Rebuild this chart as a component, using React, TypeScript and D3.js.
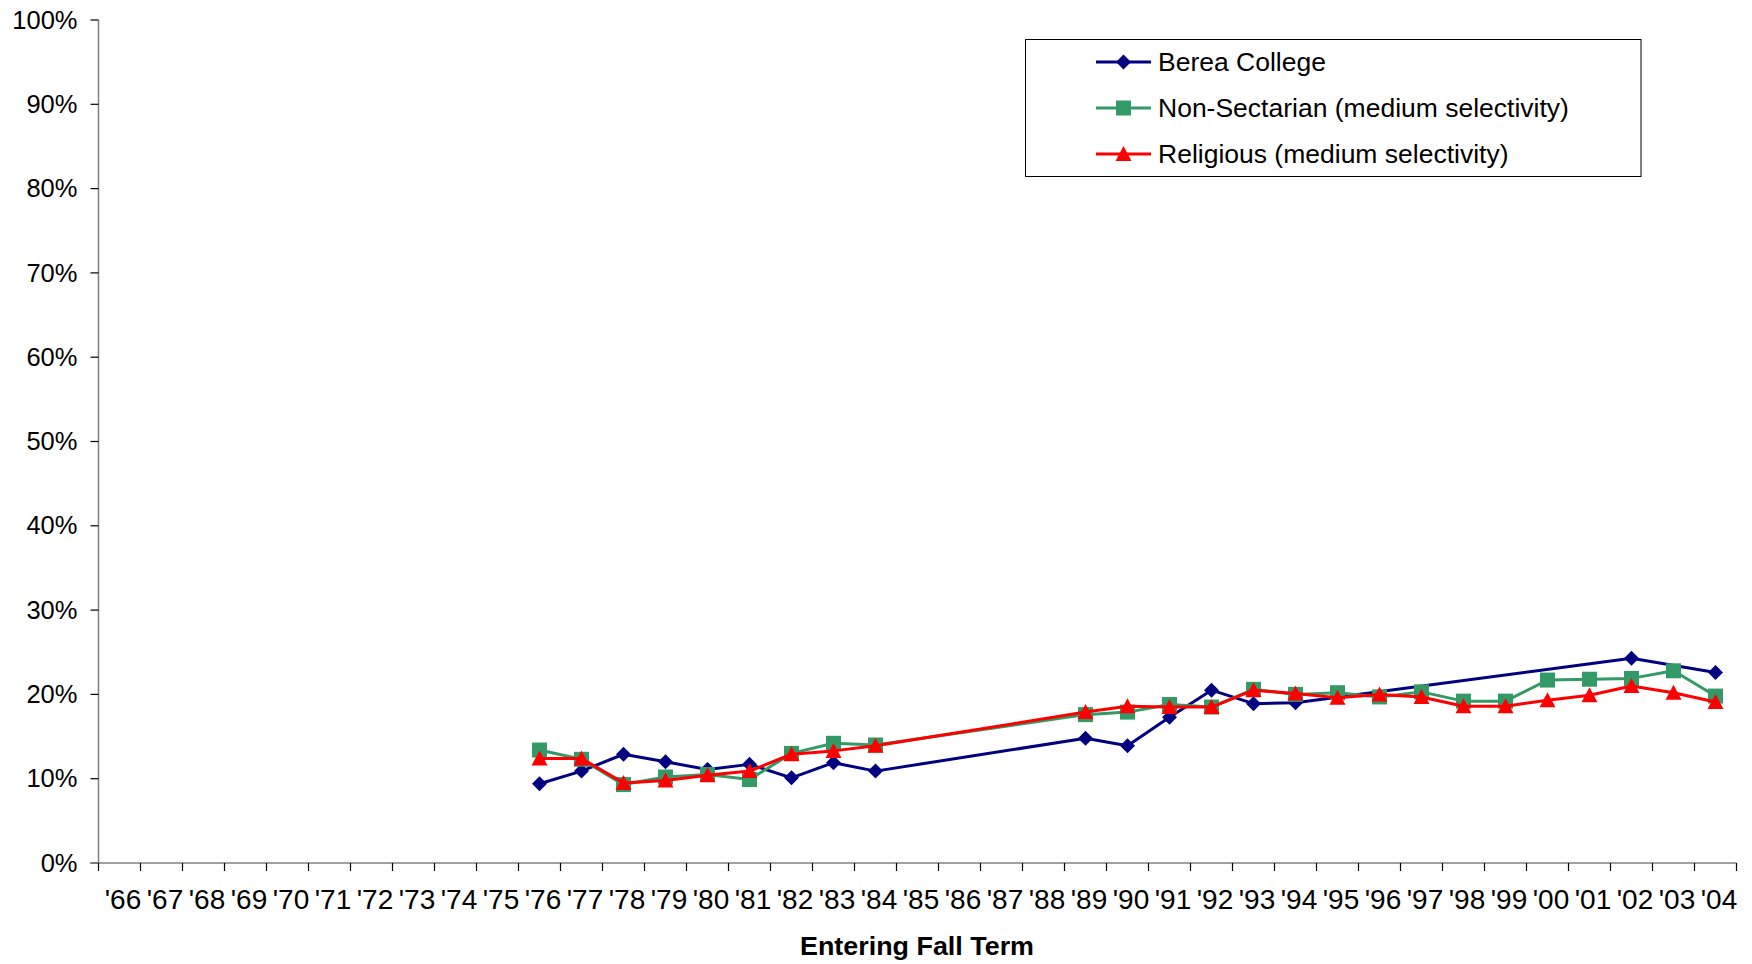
import React from "react";
import * as d3 from "d3";

const years: string[] = [
  "'66","'67","'68","'69","'70","'71","'72","'73","'74","'75",
  "'76","'77","'78","'79","'80","'81","'82","'83","'84","'85",
  "'86","'87","'88","'89","'90","'91","'92","'93","'94","'95",
  "'96","'97","'98","'99","'00","'01","'02","'03","'04",
];

const N = null;
// values in percent, index aligned with years
const berea: (number | null)[] = [
  N,N,N,N,N,N,N,N,N,N,
  9.4,10.9,12.9,12.0,11.1,11.7,10.1,11.9,10.9,N,
  N,N,N,14.8,13.9,17.3,20.5,18.9,19.0,N,
  N,N,N,N,N,N,24.3,N,22.6,
];
const nonSectarian: (number | null)[] = [
  N,N,N,N,N,N,N,N,N,N,
  13.4,12.3,9.3,10.2,10.5,9.9,13.0,14.2,14.0,N,
  N,N,N,17.6,17.9,18.8,18.5,20.6,20.0,20.2,
  19.7,20.3,19.2,19.2,21.7,21.8,21.9,22.8,19.8,
];
const religious: (number | null)[] = [
  N,N,N,N,N,N,N,N,N,N,
  12.4,12.4,9.5,9.8,10.4,10.9,12.9,13.3,13.9,N,
  N,N,N,17.9,18.6,18.5,18.5,20.5,20.1,19.6,
  20.0,19.7,18.6,18.6,19.3,19.9,21.0,20.2,19.1,
];

const yTicks: number[] = [0, 10, 20, 30, 40, 50, 60, 70, 80, 90, 100];

const seriesNames = ["Berea College", "Non-Sectarian (medium selectivity)", "Religious (medium selectivity)"];

const W = 1752, H = 964;
const left = 98.5, right = 1736.5, top = 20, bottom = 863;

type Shape = "diamond" | "square" | "triangle";
const series = [
  { name: seriesNames[0], values: berea, color: "#000080", shape: "diamond" as Shape },
  { name: seriesNames[1], values: nonSectarian, color: "#339966", shape: "square" as Shape },
  { name: seriesNames[2], values: religious, color: "#FF0000", shape: "triangle" as Shape },
];

function Marker({ shape, x, y, color }: { shape: Shape; x: number; y: number; color: string }) {
  if (shape === "diamond") {
    const r = 7.5;
    return <path d={`M${x},${y - r}L${x + r},${y}L${x},${y + r}L${x - r},${y}Z`} fill={color} />;
  }
  if (shape === "square") {
    const s = 7.5;
    return <rect x={x - s} y={y - s} width={2 * s} height={2 * s} fill={color} />;
  }
  const w = 8, h = 8;
  return <path d={`M${x},${y - h}L${x + w},${y + h - 1}L${x - w},${y + h - 1}Z`} fill={color} />;
}

export default function App() {
  const x = d3.scaleBand<string>().domain(years).range([left, right]).padding(0);
  const y = d3.scaleLinear().domain([0, 100]).range([bottom, top]);
  const cx = (i: number) => (x(years[i]) as number) + x.bandwidth() / 2;

  const lineGen = d3
    .line<[number, number]>()
    .x((d) => cx(d[0]))
    .y((d) => y(d[1]));

  const font = "'Liberation Sans', Arial, sans-serif";

  const legendX = 1025.5, legendY = 39.5, legendW = 615.5, legendH = 137;
  const legendRows = [62, 108, 154];

  return (
    <svg
      width={W}
      height={H}
      style={{ position: "absolute", left: 0, top: 0, background: "#fff" }}
      fontFamily={font}
    >
      <rect x={0} y={0} width={W} height={H} fill="#fff" />
      {/* Y axis */}
      <line x1={left} x2={left} y1={top} y2={bottom} stroke="#808080" strokeWidth={1.5} />
      {yTicks.map((t) => (
        <g key={t}>
          <line x1={left - 8} x2={left} y1={y(t)} y2={y(t)} stroke="#000" strokeWidth={1.2} />
          <text x={77.5} y={y(t)} dy="0.34em" textAnchor="end" fontSize={25.5} fill="#000">
            {t}%
          </text>
        </g>
      ))}
      {/* X axis */}
      <line x1={left - 8} x2={right} y1={bottom} y2={bottom} stroke="#808080" strokeWidth={1.5} />
      {years.map((yr) => (
        <line
          key={"t" + yr}
          x1={x(yr) as number}
          x2={x(yr) as number}
          y1={bottom}
          y2={bottom + 8}
          stroke="#000"
          strokeWidth={1.2}
        />
      ))}
      <line x1={right} x2={right} y1={bottom} y2={bottom + 8} stroke="#000" strokeWidth={1.2} />
      {years.map((yr, i) => (
        <text key={"l" + yr} x={cx(i) + 3.5} y={909} textAnchor="middle" fontSize={28} fill="#000">
          {yr}
        </text>
      ))}
      <text
        x={917}
        y={955}
        textAnchor="middle"
        fontSize={26}
        fontWeight="bold"
        textLength={234}
        lengthAdjust="spacingAndGlyphs"
        fill="#000"
      >
        Entering Fall Term
      </text>

      {/* series */}
      {series.map((s) => {
        const pts: [number, number][] = [];
        s.values.forEach((v, i) => {
          if (v != null) pts.push([i, v]);
        });
        return (
          <g key={s.name}>
            <path d={lineGen(pts) || ""} fill="none" stroke={s.color} strokeWidth={3} strokeLinejoin="round" />
            {pts.map(([i, v]) => (
              <Marker key={i} shape={s.shape} x={cx(i)} y={y(v)} color={s.color} />
            ))}
          </g>
        );
      })}

      {/* legend */}
      <rect x={legendX} y={legendY} width={legendW} height={legendH} fill="#fff" stroke="#000" strokeWidth={1} />
      {series.map((s, k) => (
        <g key={"lg" + s.name}>
          <line x1={1096} x2={1151} y1={legendRows[k]} y2={legendRows[k]} stroke={s.color} strokeWidth={3} />
          <Marker shape={s.shape} x={1123.5} y={legendRows[k]} color={s.color} />
          <text x={1158} y={legendRows[k]} dy="0.35em" fontSize={26.5} fill="#000">
            {s.name}
          </text>
        </g>
      ))}
    </svg>
  );
}
